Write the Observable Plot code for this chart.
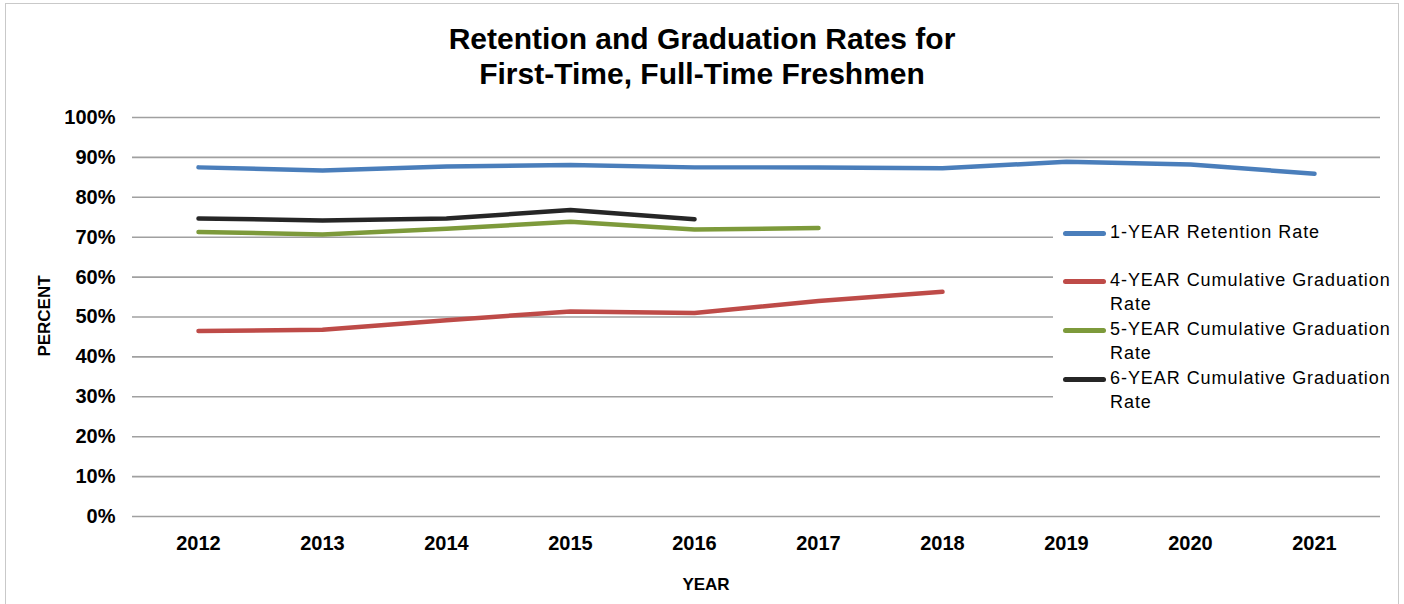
<!DOCTYPE html>
<html>
<head>
<meta charset="utf-8">
<script src="https://cdn.jsdelivr.net/npm/d3@7"></script>
<script src="https://cdn.jsdelivr.net/npm/@observablehq/plot@0.6"></script>
<style>
  html, body { margin: 0; padding: 0; background: #fff; }
  #wrap { position: relative; width: 1404px; height: 604px; overflow: hidden; font-family: "Liberation Sans", Arial, sans-serif; }
  #border { position: absolute; left: 5px; top: 3px; width: 1394px; height: 640px; border: 1.5px solid #c9c9c9; box-sizing: border-box; }
  #title { position: absolute; left: 0; top: 21px; width: 1404px; text-align: center; font-weight: bold; font-size: 30px; line-height: 35px; color: #000; }
  #chart { position: absolute; left: 0; top: 105px; }
  #ylab { position: absolute; left: 45px; top: 316px; transform: translate(-50%, -50%) rotate(-90deg); font-weight: bold; font-size: 17px; color: #000; white-space: nowrap; }
  #xlab { position: absolute; left: 706px; top: 585px; transform: translate(-50%, -50%); font-weight: bold; font-size: 17px; color: #000; }
  #legend { position: absolute; left: 1053px; top: 214px; width: 345px; height: 204px; background: #fff; }
  .item { position: absolute; left: 10px; display: flex; align-items: flex-start; }
  .sw { width: 43px; height: 4.5px; border-radius: 3px; margin-top: 9px; margin-right: 4px; flex: none; }
  .lt { font-size: 18px; line-height: 24px; color: #000; letter-spacing: 0.95px; margin-top: -2px; white-space: nowrap; }
</style>
</head>
<body>
<div id="wrap">
  <div id="border"></div>
  <div id="title">Retention and Graduation Rates for<br>First-Time, Full-Time Freshmen</div>
  <div id="chart"></div>
  <div id="ylab">PERCENT</div>
  <div id="xlab">YEAR</div>
  <div id="legend"></div>
</div>
<script>
const years = [2012, 2013, 2014, 2015, 2016, 2017, 2018, 2019, 2020, 2021];
const retention1 = [87.5, 86.7, 87.7, 88.1, 87.5, 87.5, 87.3, 88.9, 88.2, 85.9];
const grad4 = [46.5, 46.8, 49.2, 51.4, 51.0, 54.0, 56.3];
const grad5 = [71.3, 70.7, 72.1, 73.9, 71.9, 72.3];
const grad6 = [74.7, 74.2, 74.7, 76.8, 74.5];
const yTicks = [0, 10, 20, 30, 40, 50, 60, 70, 80, 90, 100];
const seriesNames = ["1-YEAR Retention Rate", "4-YEAR Cumulative Graduation Rate", "5-YEAR Cumulative Graduation Rate", "6-YEAR Cumulative Graduation Rate"];
const seriesColors = ["#4a7ebb", "#be4b48", "#7d9a3b", "#262626"];
const seriesValues = [retention1, grad4, grad5, grad6];

const rows = [];
seriesValues.forEach((vals, i) => {
  vals.forEach((v, j) => rows.push({series: seriesNames[i], year: String(years[j]), value: v}));
});

const chart = Plot.plot({
  width: 1404,
  height: 499,
  marginLeft: 132,
  marginRight: 24,
  marginTop: 12,
  marginBottom: 88,
  style: {fontFamily: "'Liberation Sans', Arial, sans-serif", background: "transparent", color: "#000"},
  x: {type: "point", domain: years.map(String), padding: 0.5, label: null},
  y: {domain: [0, 100], label: null},
  color: {domain: seriesNames, range: seriesColors},
  marks: [
    Plot.ruleY(yTicks, {stroke: "#a0a0a0", strokeWidth: 1.6}),
    Plot.axisY(yTicks, {tickSize: 0, tickPadding: 17, tickFormat: d => d + "%", fontSize: 20, fontWeight: "bold", label: null}),
    Plot.axisX({tickSize: 0, tickPadding: 19, fontSize: 20, fontWeight: "bold", label: null}),
    Plot.line(rows, {x: "year", y: "value", z: "series", stroke: "series", strokeWidth: 4.5, strokeLinecap: "round", strokeLinejoin: "round"})
  ]
});
document.getElementById("chart").appendChild(chart);

// Legend
const legendTops = [8, 56, 105, 154];
const legendText = ["1-YEAR Retention Rate", "4-YEAR Cumulative Graduation<br>Rate", "5-YEAR Cumulative Graduation<br>Rate", "6-YEAR Cumulative Graduation<br>Rate"];
const leg = document.getElementById("legend");
seriesNames.forEach((name, i) => {
  const it = document.createElement("div");
  it.className = "item";
  it.style.top = legendTops[i] + "px";
  it.innerHTML = `<div class="sw" style="background:${seriesColors[i]}"></div><div class="lt">${legendText[i]}</div>`;
  leg.appendChild(it);
});
</script>
</body>
</html>
